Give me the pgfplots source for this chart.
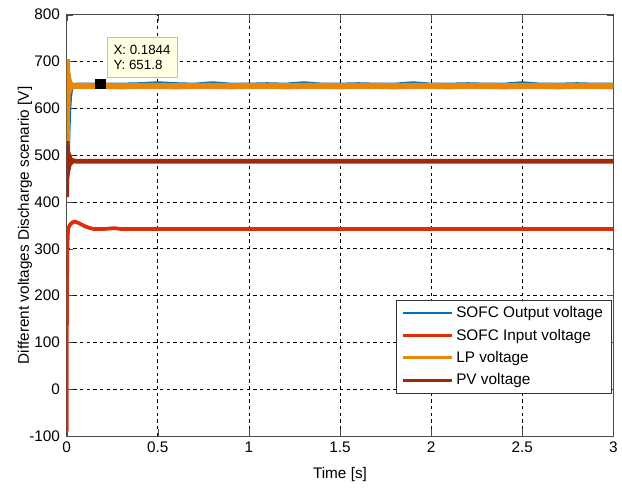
\documentclass[border=0pt]{standalone}
\usepackage{pgfplots}
\pgfplotsset{compat=1.18}
\usepackage{fontspec}
\setmainfont{Liberation Sans}
\definecolor{mblue}{RGB}{0,114,189}
\definecolor{mred}{RGB}{222,45,10}
\definecolor{morange}{RGB}{234,135,10}
\definecolor{mbrown}{RGB}{160,42,5}
\definecolor{tipfill}{RGB}{255,255,228}
\begin{document}
\begin{tikzpicture}[x=1pt,y=1pt]
\begin{axis}[
  name=ax,
  scale only axis,
  width=410pt, height=316pt,
  xmin=0, xmax=3, ymin=-100, ymax=800,
  xtick={0,0.5,...,3}, ytick={-100,0,...,800},
  tick align=inside,
  major tick length=5pt,
  tick style={black!70},
  axis line style={black!70},
  grid=major,
  major grid style={black, dashed, line width=0.5pt, dash pattern=on 2.5pt off 2.5pt},
  xlabel={Time [s]},
  ylabel={Different voltages Discharge scenario [V]},
  label style={font=\fontsize{11.5}{13}\selectfont},
  tick label style={font=\fontsize{11.5}{13}\selectfont},
  /pgf/number format/assume math mode=true,
  xticklabel style={/pgf/number format/fixed, yshift=-1pt},
  yticklabel style={xshift=-1.5pt},
  xlabel style={yshift=-4pt},
  ylabel style={yshift=-9pt},
  legend style={at={(rel axis cs:0.996,0.10)}, anchor=south east,
    font=\fontsize{11.5}{13}\selectfont, draw=black!80, row sep=3pt,
    inner xsep=4pt, inner ysep=3pt, cells={anchor=west}},
  legend image post style={line width=2.2pt},
  legend image code/.code={\draw[#1] (0pt,0pt) -- (37pt,0pt);},
]
% SOFC output voltage
\addplot[mblue, line width=2.6pt] coordinates {
(0,430) (0.004,440) (0.008,500) (0.012,560) (0.016,600) (0.02,625) (0.025,638)
(0.03,645) (0.04,650) (0.06,651) (0.1,651) (0.2,651) (0.3,651) (0.4,652)
(0.5,654) (0.6,652) (0.7,651) (0.8,654) (0.9,651) (1.0,651) (1.1,652)
(1.2,651) (1.3,654) (1.4,651) (1.5,651) (1.6,652) (1.7,651) (1.8,651)
(1.9,654) (2.0,651) (2.1,651) (2.2,652) (2.3,651) (2.4,651) (2.5,654)
(2.6,651) (2.7,651) (2.8,652) (2.9,651) (3.0,651)};
\addlegendentry{SOFC Output voltage}
% SOFC input voltage
\addplot[mred, line width=2.8pt] coordinates {
(0,-90) (0.001,120) (0.003,280) (0.006,330) (0.01,345) (0.02,352) (0.03,356)
(0.045,358) (0.06,356) (0.08,352) (0.1,348) (0.12,345) (0.15,342) (0.2,342)
(0.26,344) (0.3,342) (0.4,342) (0.5,342) (0.6,342) (0.7,342) (0.8,342)
(0.9,342) (1.0,342) (1.2,342) (1.4,342) (1.6,342) (1.8,342) (2.0,342)
(2.2,342) (2.4,342) (2.6,342) (2.8,342) (3.0,342)};
\addlegendentry{SOFC Input voltage}
% LP voltage
\addplot[morange, line width=4.6pt] coordinates {
(0,520) (0.002,705) (0.004,600) (0.006,665) (0.009,638) (0.013,655) (0.018,644)
(0.024,650) (0.03,647) (0.05,648) (0.1,648) (0.2,648) (0.3,647) (0.4,648)
(0.5,648) (0.6,647) (0.7,648) (0.8,648) (0.9,647) (1.0,648) (1.1,648)
(1.2,647) (1.3,648) (1.4,648) (1.5,647) (1.6,648) (1.7,648) (1.8,647)
(1.9,648) (2.0,648) (2.1,647) (2.2,648) (2.3,648) (2.4,647) (2.5,648)
(2.6,648) (2.7,647) (2.8,648) (2.9,648) (3.0,647)};
\addlegendentry{LP voltage}
% PV voltage
\addplot[mbrown, line width=3.6pt] coordinates {
(0,410) (0.003,530) (0.006,470) (0.01,500) (0.015,482) (0.02,492) (0.027,485)
(0.035,488) (0.05,487) (0.1,487) (0.2,487) (0.3,487) (0.4,487) (0.5,487)
(0.6,487) (0.7,487) (0.8,487) (0.9,487) (1.0,487) (1.2,487) (1.4,487)
(1.6,487) (1.8,487) (2.0,487) (2.2,487) (2.4,487) (2.6,487) (2.8,487) (3.0,487)};
\addlegendentry{PV voltage}
% data tip
\addplot[only marks, mark=square*, mark size=3.4pt, black, forget plot]
  coordinates {(0.1844,651.8)};
\node[draw=black!25, fill=tipfill, anchor=south west, align=left,
  font=\fontsize{10}{11.5}\selectfont, inner xsep=5pt, inner ysep=6pt]
  at (axis cs:0.219,665) {X: 0.1844\\Y: 651.8};
\end{axis}
% page margins around the axis
\path ([xshift=-50pt,yshift=-44pt]ax.south west) rectangle ([xshift=6pt,yshift=11pt]ax.north east);
\end{tikzpicture}
\end{document}
